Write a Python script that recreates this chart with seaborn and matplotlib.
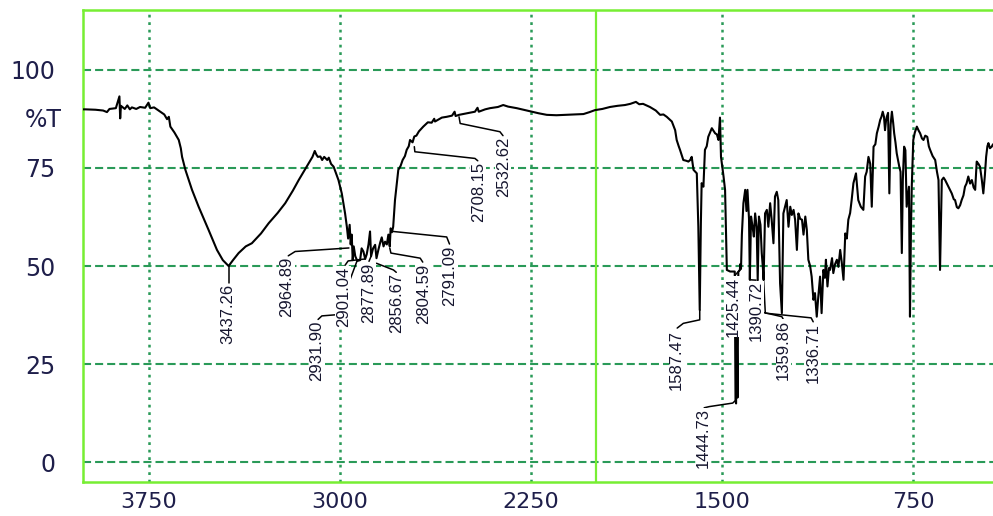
import matplotlib
matplotlib.use('Agg')
import matplotlib.pyplot as plt
import matplotlib.ticker as mticker
import matplotlib.transforms as mtrans
from matplotlib import font_manager
import pandas as pd
import seaborn as sns

# ---------------- data ----------------
wavenumber = [
    4009, 4000, 3960, 3930, 3915, 3905, 3880, 3866, 3863, 3860, 3845, 3835, 3825, 3817, 3800,
    3785, 3765, 3752, 3745, 3730, 3706, 3690, 3679, 3672, 3666, 3650, 3633, 3625, 3620, 3607,
    3581, 3555, 3516, 3483, 3460, 3437.26, 3420, 3398, 3370, 3346, 3310, 3280, 3245, 3215, 3185,
    3162, 3140, 3123, 3108, 3099, 3093, 3087, 3077, 3070, 3062, 3050, 3044, 3035, 3025, 3015,
    3006, 2993, 2980, 2973, 2968, 2962, 2958, 2954, 2950, 2946, 2940, 2931.9, 2921, 2915, 2908,
    2901.04, 2895, 2888, 2882, 2877.89, 2870, 2862, 2856.67, 2849, 2842, 2836, 2829, 2823, 2816,
    2810, 2804.59, 2801, 2796, 2791.09, 2784, 2771, 2762, 2754, 2745, 2738, 2730, 2725, 2715,
    2708.15, 2700, 2690, 2673, 2655, 2640, 2630, 2627, 2600, 2581, 2560, 2550, 2546, 2532.62,
    2502, 2470, 2460, 2455, 2430, 2411, 2380, 2359, 2340, 2306, 2280, 2247, 2220, 2188, 2150,
    2110, 2080, 2044, 2020, 1999, 1970, 1940, 1910, 1881, 1860, 1838, 1825, 1810, 1783, 1760,
    1743, 1730, 1717, 1697, 1684, 1678, 1670, 1665, 1652, 1640, 1632, 1625, 1619, 1612, 1599,
    1593, 1587.47, 1583, 1580, 1573, 1567, 1560, 1554, 1540, 1527, 1520, 1514, 1508, 1504, 1494,
    1488, 1481, 1468, 1450, 1447, 1444.73, 1442, 1439, 1436, 1430, 1428, 1425.44, 1422, 1416,
    1409, 1404, 1400, 1394, 1390.72, 1386, 1380, 1375, 1370, 1364, 1359.86, 1355, 1349, 1344,
    1340, 1336.71, 1331, 1324, 1318, 1311, 1305, 1298, 1292, 1285, 1279, 1272, 1265, 1259, 1246,
    1239, 1232, 1226, 1219, 1213, 1206, 1200, 1193, 1186, 1180, 1173, 1167, 1161, 1154, 1148,
    1141, 1135, 1128, 1122, 1115, 1109, 1102, 1096, 1092, 1086, 1080, 1076, 1068, 1063, 1056,
    1049, 1043, 1036, 1030, 1023, 1016, 1010, 1004, 997, 991, 984, 974, 965, 955, 945,
    938, 932, 925, 918, 912, 905, 898, 892, 885, 879, 874, 869, 864, 860, 856,
    853, 848, 843, 838, 833, 828, 824, 819, 814, 809, 804, 799, 794, 790, 785,
    780, 775, 770, 766, 762, 758, 755, 749, 743, 735, 728, 722, 715, 709, 702,
    694, 688, 683, 673, 663, 656, 650, 644, 637, 630, 624, 611, 598, 590, 585,
    578, 572, 565, 559, 552, 546, 540, 533, 526, 519, 512, 506, 500, 493, 487,
    480, 474, 468, 463, 458, 454, 448, 441, 436,
]
transmittance = [
    89.9, 89.9, 89.8, 89.6, 89.2, 90.0, 90.2, 93.2, 87.6, 90.8, 90.0, 90.9, 89.9, 90.4, 90.0,
    90.5, 90.3, 91.6, 90.2, 90.4, 89.3, 88.6, 87.4, 88.0, 85.5, 84.0, 82.1, 80.0, 77.8, 74.5,
    69.4, 65.1, 59.2, 54.1, 51.5, 50.0, 51.5, 53.3, 55.0, 55.8, 58.3, 60.9, 63.5, 66.0, 69.2,
    71.9, 74.3, 76.2, 77.8, 79.3, 78.4, 77.8, 77.9, 77.0, 77.8, 77.0, 77.6, 76.0, 75.3, 73.5,
    71.9, 68.5, 63.4, 60.0, 57.0, 60.5, 55.5, 58.0, 51.5, 55.0, 52.5, 51.3, 51.5, 54.5, 53.7,
    51.8, 53.0, 55.5, 58.8, 52.5, 54.5, 55.4, 52.0, 54.2, 56.0, 57.3, 55.0, 56.2, 55.5,
    58.0, 55.0, 59.6, 58.6, 60.0, 66.8, 74.5, 75.5, 77.0, 78.0, 79.6, 80.5, 82.1, 81.5,
    83.0, 83.2, 84.3, 85.5, 86.6, 86.5, 87.5, 86.8, 87.8, 88.0, 88.3, 89.3, 88.2, 88.5,
    88.9, 89.3, 90.3, 89.3, 89.9, 90.2, 90.5, 91.0, 90.6, 90.2, 89.8, 89.3, 88.9, 88.5, 88.4,
    88.5, 88.6, 88.7, 89.2, 89.7, 90.0, 90.5, 90.8, 91.0, 91.3, 91.8, 91.2, 91.3, 90.5, 89.6,
    88.5, 88.6, 88.0, 86.8, 84.6, 82.1, 80.5, 79.6, 77.0, 76.8, 76.6, 77.0, 77.8, 74.5, 73.6,
    60.0, 38.8, 60.9, 71.1, 70.2, 79.6, 80.5, 82.9, 85.1, 83.8, 83.5, 82.1, 87.8, 77.8, 72.8,
    69.4, 49.0, 48.6, 48.6, 16.0, 15.0, 33.0, 16.5, 48.5, 49.0, 50.5, 49.3, 58.0, 66.0,
    69.4, 64.0, 69.4, 62.0, 46.5, 62.6, 60.0, 57.5, 63.4, 60.0, 46.5, 62.6, 60.5, 53.3,
    50.0, 46.5, 63.4, 64.3, 60.0, 66.0, 61.8, 55.8, 67.7, 68.9, 66.8, 45.6, 38.0, 63.4, 66.8,
    60.0, 65.1, 63.0, 64.3, 61.8, 54.1, 63.4, 62.0, 61.8, 58.0, 62.6, 59.2, 51.6, 50.0, 47.3,
    41.4, 43.1, 37.1, 42.2, 47.3, 38.0, 49.0, 47.0, 51.6, 44.8, 49.5, 49.0, 52.0, 48.2, 50.5,
    51.6, 49.8, 54.1, 51.0, 46.5, 58.3, 57.0, 61.8, 63.5, 66.8, 71.1, 73.6, 66.8, 65.1, 64.3,
    72.8, 74.0, 77.8, 76.0, 65.1, 80.4, 81.0, 83.8, 85.5, 87.2, 88.0, 89.3, 88.0, 84.6, 87.0,
    88.0, 89.0, 68.5, 86.0, 89.3, 86.5, 83.8, 81.5, 78.7, 77.0, 75.3, 74.0, 53.3, 72.0, 80.4,
    79.5, 65.1, 68.0, 70.2, 37.1, 60.0, 70.2, 82.1, 84.0, 85.5, 84.5, 83.8, 82.5, 82.1, 83.2,
    82.9, 80.5, 79.6, 78.0, 77.0, 74.0, 71.9, 49.0, 71.9, 72.5, 71.9, 70.2, 68.5, 67.0, 66.8,
    65.0, 64.7, 65.5, 66.8, 68.0, 70.2, 71.0, 72.8, 71.0, 71.9, 70.0, 69.4, 76.6, 76.0, 75.3,
    72.0, 68.5, 73.0, 77.8, 80.5, 81.3, 80.0, 80.4, 81.0,
]

peak_labels = ["3437.26", "2964.89", "2931.90", "2901.04", "2877.89", "2856.67", "2804.59",
               "2791.09", "2708.15", "2532.62", "1587.47", "1444.73", "1425.44", "1390.72",
               "1359.86", "1336.71"]
label_wn = [3439, 3209, 3091, 2987, 2889, 2777, 2673, 2568, 2457, 2359, 1678, 1573, 1455,
            1364, 1259, 1141]
label_top = [45.4, 52.3, 36.0, 49.8, 50.8, 48.2, 50.7, 55.3, 76.5, 82.9, 33.8, 13.8, 47.3,
             46.2, 36.3, 35.5]
leader_paths = [
    [(3437.26, 50.0), (3437.26, 45.8)],
    [(2964.89, 54.6), (3176, 53.7), (3203, 52.6)],
    [(2931.9, 51.5), (2975, 44.0), (2975, 37.8), (3071, 37.3), (3086, 36.4)],
    [(2901.04, 51.8), (2968, 51.3), (2980, 50.2)],
    [(2877.89, 52.5), (2886, 51.2)],
    [(2856.67, 50.7), (2790, 49.0), (2779, 48.4)],
    [(2804.59, 54.6), (2800, 53.3), (2685, 52.0), (2675, 51.0)],
    [(2791.09, 58.8), (2581, 57.4), (2570, 55.6)],
    [(2708.15, 80.4), (2706, 79.1), (2470, 77.4), (2459, 76.8)],
    [(2532.62, 88.0), (2528, 86.3), (2372, 84.2), (2360, 83.2)],
    [(1587.47, 38.8), (1587.47, 36.3), (1652, 35.4), (1676, 34.2)],
    [(1444.73, 15.9), (1458, 15.1), (1550, 14.2), (1570, 13.9)],
    [(1425.44, 49.3), (1450, 47.6)],
    [(1390.72, 46.5), (1366, 46.4)],
    [(1359.86, 46.5), (1352, 38.4), (1265, 37.1), (1260, 36.5)],
    [(1336.71, 46.5), (1330, 38.0), (1150, 36.8), (1142, 35.8)],
]

x_ticks = [3750, 3000, 2250, 1500, 750]
x_minor = list(range(3900, 400, -150))
y_ticks = [0, 25, 50, 75, 100]
marker_wn = 1995
y_axis_label = "%T"

# ---------------- style ----------------
sns.set_style("white")
plt.rcParams['lines.scale_dashes'] = False
plt.rcParams['font.family'] = ['DejaVu Sans']
names = {f.name for f in font_manager.fontManager.ttflist}
if 'Liberation Sans Narrow' in names:
    label_font, label_size = 'Liberation Sans Narrow', 14.5
else:
    label_font, label_size = 'Liberation Sans', 12

LIME = '#77ee33'
GRID = '#2a9a58'
NAVY = '#1e1e4a'

fig = plt.figure(figsize=(9.93, 5.16), dpi=100)
ax = fig.add_axes([83 / 993, 1 - 482 / 516, (993 - 83) / 993, (482 - 10) / 516])

df = pd.DataFrame({'wn': wavenumber, 'T': transmittance})
sns.lineplot(data=df, x='wn', y='T', ax=ax, color='black', linewidth=1.5,
             sort=False, estimator=None, zorder=3)

ax.set_xlim(4009, 436)
ax.set_ylim(-5, 115.2)
ax.set_xlabel('')
ax.set_ylabel('')

ax.set_xticks(x_ticks)
ax.set_xticklabels([str(v) for v in x_ticks])
ax.xaxis.set_minor_locator(mticker.FixedLocator(x_minor))
ax.set_yticks(y_ticks)
ax.set_yticklabels([str(v) for v in y_ticks])
ax.yaxis.set_minor_locator(mticker.MultipleLocator(5))

ax.set_axisbelow(True)
ax.grid(True, axis='y', which='major', color=GRID, linestyle=(0, (5.8, 2.9)), linewidth=1.5)
ax.grid(True, axis='x', which='major', color=GRID, linestyle=(0, (2.0, 3.4)), linewidth=1.8)

for side in ['left', 'bottom', 'top']:
    ax.spines[side].set_color(LIME)
    ax.spines[side].set_linewidth(1.8)
ax.spines['right'].set_visible(False)

ax.tick_params(axis='y', which='major', length=15, width=1.5, color=GRID, pad=5,
               labelsize=17, labelcolor=NAVY)
ax.tick_params(axis='y', which='minor', length=6, width=1.2, color=LIME)
ax.tick_params(axis='x', which='major', length=6, width=1.5, color=GRID, pad=1.5,
               labelsize=16, labelcolor=NAVY)
ax.tick_params(axis='x', which='minor', length=5, width=1.2, color=LIME)

ax.axvline(marker_wn, color=LIME, linewidth=1.6, zorder=2)

trans = mtrans.blended_transform_factory(ax.transAxes, ax.transData)
ax.text(-0.023, 87.2, y_axis_label, transform=trans, ha='right', va='center',
        fontsize=17, color=NAVY)

for txt, lx, ly, path in zip(peak_labels, label_wn, label_top, leader_paths):
    px = [p[0] for p in path]
    py = [p[1] for p in path]
    ax.plot(px, py, color='black', linewidth=1.1, zorder=4)
    ax.text(lx, ly, txt, rotation=90, ha='center', va='top', fontsize=label_size,
            family=label_font, color='#15152e', zorder=5,
            bbox=dict(facecolor='white', edgecolor='none', pad=0.3))

fig.savefig('out.png', dpi=100)
